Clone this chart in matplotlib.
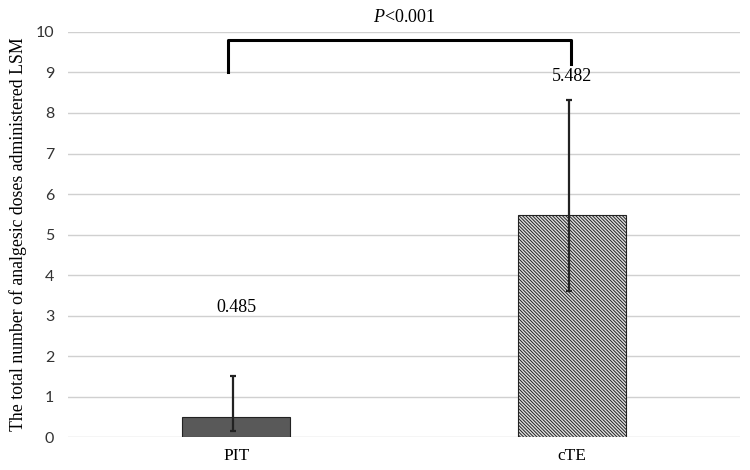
import numpy as np
import matplotlib.pyplot as plt

groups = ["PIT", "cTE"]
means = [0.485, 5.482]
err_low = [0.335, 1.88]
err_high = [1.035, 2.84]
value_labels = ["0.485", "5.482"]
label_y = [3.2, 8.9]
p_text = "$P$<0.001"

plt.rcParams['hatch.linewidth'] = 0.7
plt.rcParams['hatch.color'] = '#3a3a3a'
plt.rcParams['mathtext.fontset'] = 'custom'
plt.rcParams['mathtext.it'] = 'Liberation Serif:italic'
plt.rcParams['mathtext.rm'] = 'Liberation Serif'

fig = plt.figure(figsize=(7.5, 4.7), dpi=100)
ax = fig.add_axes([0.091, 0.070, 0.896, 0.862])

x = np.arange(len(groups))
bars = ax.bar(x, means, width=0.32, color=['#595959', '#e0e0e0'],
              edgecolor='#222222', linewidth=0.8, zorder=2)
bars[1].set_hatch('\\' * 10)

ax.errorbar(x - 0.01, means, yerr=[err_low, err_high], fmt='none',
            ecolor='#222222', elinewidth=1.6, capsize=2, capthick=1.6, zorder=3)

for xi, lab, ly in zip(x, value_labels, label_y):
    ax.text(xi, ly, lab, ha='center', va='center', fontsize=13,
            family='Liberation Serif')

# significance bracket
bx0, bx1 = x[0] - 0.025, x[1] - 0.005
ax.plot([bx0, bx0, bx1, bx1], [9.0, 9.8, 9.8, 9.2], color='black', lw=2.2,
        zorder=4, clip_on=False)
ax.text((x[0] + x[1]) / 2, 10.35, p_text, ha='center', va='center',
        fontsize=13, family='Liberation Serif', clip_on=False)

ax.set_xlim(-0.5, 1.5)
ax.set_ylim(0, 10)
ax.set_yticks(range(0, 11))
ax.set_xticks(x)
ax.set_xticklabels(groups, family='Liberation Serif', fontsize=12.5)
ax.tick_params(axis='y', labelsize=11.5, length=0, pad=10, labelcolor='#333333')
ax.tick_params(axis='x', length=0, pad=8)
for lab in ax.get_yticklabels():
    lab.set_family('Lato')
ax.grid(axis='y', color='#d0d0d0', lw=1, zorder=0)
ax.set_axisbelow(True)
for s in ax.spines.values():
    s.set_visible(False)
ax.set_ylabel("The total number of analgesic doses administered LSM",
              family='Liberation Serif', fontsize=12.8, labelpad=6)

fig.savefig("out.png", dpi=100)
